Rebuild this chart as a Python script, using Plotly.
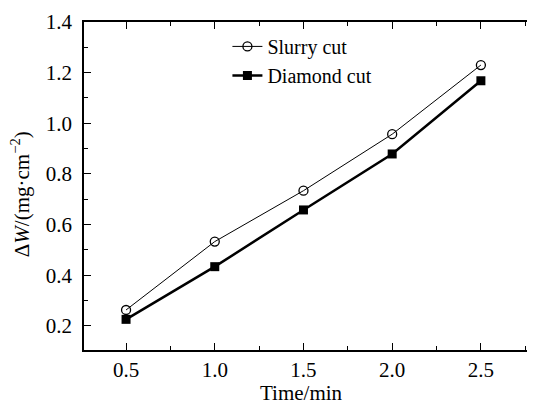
import plotly.graph_objects as go

time_min = [0.5, 1.0, 1.5, 2.0, 2.5]
slurry_cut = [0.263, 0.533, 0.734, 0.957, 1.230]
diamond_cut = [0.226, 0.434, 0.658, 0.879, 1.168]
x_ticks = [0.5, 1.0, 1.5, 2.0, 2.5]
x_ticklabels = ["0.5", "1.0", "1.5", "2.0", "2.5"]
y_ticks = [0.2, 0.4, 0.6, 0.8, 1.0, 1.2, 1.4]
y_ticklabels = ["0.2", "0.4", "0.6", "0.8", "1.0", "1.2", "1.4"]

FONT = "Liberation Serif"
FS = 21

fig = go.Figure()
fig.add_trace(go.Scatter(
    x=time_min, y=slurry_cut, name="Slurry cut", mode="lines+markers",
    line=dict(color="black", width=1),
    marker=dict(symbol="circle-open", size=9, color="black", line=dict(width=1.3)),
))
fig.add_trace(go.Scatter(
    x=time_min, y=diamond_cut, name="Diamond cut", mode="lines+markers",
    line=dict(color="black", width=2.5),
    marker=dict(symbol="square", size=9, color="black"),
))

axis_common = dict(
    showgrid=False, zeroline=False, showline=True, linecolor="black", linewidth=1.5,
    ticks="inside", tickcolor="black", tickwidth=1.3, ticklen=7, automargin=False,
    tickfont=dict(family=FONT, size=FS, color="black"),
)

fig.update_xaxes(
    **axis_common, range=[0.263, 2.805], tickmode="array",
    tickvals=x_ticks, ticktext=x_ticklabels, mirror="allticks",
    minor=dict(ticks="inside", dtick=0.25, tick0=0.25, ticklen=4, tickcolor="black", tickwidth=1.2),
    ticklabelstandoff=0,
)
fig.update_yaxes(
    **axis_common, range=[0.105, 1.4], tickmode="array",
    tickvals=y_ticks, ticktext=y_ticklabels, mirror="ticks",
    minor=dict(ticks="inside", dtick=0.1, tick0=0.1, ticklen=4, tickcolor="black", tickwidth=1.2),
    ticklabelstandoff=6,
)

fig.add_annotation(
    text="Time/min", xref="paper", yref="paper", x=0.483, y=-0.131,
    xanchor="center", yanchor="middle", showarrow=False,
    font=dict(family=FONT, size=FS, color="black"),
)
fig.add_annotation(
    text="Δ<i>W</i>/(mg·cm<sup>−2</sup>)", textangle=-90,
    xref="paper", yref="paper", x=-0.142, y=0.475,
    xanchor="center", yanchor="middle", showarrow=False,
    font=dict(family=FONT, size=FS, color="black"),
)

# page body has an 8px default margin, so the figure is 8px smaller than the window
fig.update_layout(
    width=527, height=400,
    margin=dict(l=76, r=0, t=14, b=58, autoexpand=False),
    paper_bgcolor="white", plot_bgcolor="white",
    font=dict(family=FONT, size=FS, color="black"),
    showlegend=True,
    legend=dict(x=0.318, y=0.985, xanchor="left", yanchor="top",
                bgcolor="rgba(0,0,0,0)", itemwidth=30, tracegroupgap=0,
                font=dict(family=FONT, size=20, color="black")),
)

fig.write_html("out.html")
